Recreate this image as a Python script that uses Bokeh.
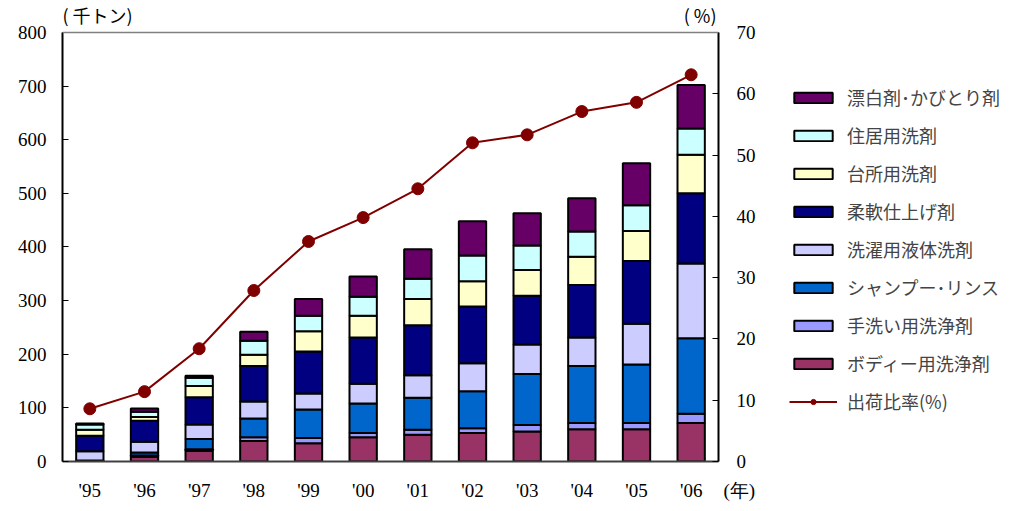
from bokeh.plotting import figure
from bokeh.models import (Range1d, LinearAxis, Legend, LegendItem, Label, FixedTicker,
                          ColumnDataSource, Span)
from bokeh.layouts import row
from bokeh.embed import file_html
from bokeh.resources import INLINE

years = ["'95", "'96", "'97", "'98", "'99", "'00", "'01", "'02", "'03", "'04", "'05", "'06"]
year_unit = "(年)"

body_wash   = [0, 9, 20, 38, 34, 45, 50, 53, 56, 60, 60, 72]
hand_wash   = [2, 2, 3, 7, 10, 8, 9, 9, 12, 12, 12, 17]
shampoo     = [0, 6, 19, 35, 53, 55, 60, 69, 95, 106, 109, 141]
liquid      = [17, 20, 27, 32, 30, 37, 42, 52, 55, 53, 76, 139]
softener    = [29, 39, 51, 66, 78, 86, 93, 106, 91, 98, 117, 131]
kitchen     = [11, 7, 21, 21, 38, 41, 49, 47, 48, 53, 56, 72]
residential = [10, 10, 15, 26, 29, 35, 38, 48, 46, 47, 48, 49]
bleach      = [2, 6, 4, 17, 31, 38, 55, 64, 60, 62, 78, 81]
ratio       = [8.6, 11.4, 18.4, 27.9, 35.9, 39.8, 44.5, 52.0, 53.3, 57.1, 58.6, 63.1]

left_ticks = [0, 100, 200, 300, 400, 500, 600, 700, 800]
right_ticks = [0, 10, 20, 30, 40, 50, 60, 70]

series_names = ["ボディー用洗浄剤", "手洗い用洗浄剤", "シャンプー･リンス", "洗濯用液体洗剤",
                "柔軟仕上げ剤", "台所用洗剤", "住居用洗剤", "漂白剤･かびとり剤"]
ratio_name = "出荷比率(%)"
series_keys = ["body", "hand", "shampoo", "liquid", "softener", "kitchen", "residential", "bleach"]
colors = ["#993366", "#9999FF", "#0066CC", "#CCCCFF", "#000080", "#FFFFCC", "#CCFFFF", "#660066"]
line_color = "#800000"

n = len(years)
xpos = [i + 1 for i in range(n)]          # category slots on a numeric axis
data = dict(x=xpos, body=body_wash, hand=hand_wash, shampoo=shampoo, liquid=liquid,
            softener=softener, kitchen=kitchen, residential=residential, bleach=bleach,
            ratio=ratio)
source = ColumnDataSource(data)

LEFT_MAX = 800
RIGHT_MAX = 70
EXT = 852.2    # frame reaches a bit above 800 so the unit captions sit inside it
H = 509

p = figure(width=760, height=H, x_range=Range1d(0.5, n + 0.5),
           y_range=Range1d(0, EXT), output_backend="svg", toolbar_location=None,
           min_border_left=62, min_border_right=42, min_border_top=4, min_border_bottom=48)
p.extra_y_ranges = {"pct": Range1d(0, EXT * RIGHT_MAX / LEFT_MAX)}

renderers = p.vbar_stack(series_keys, x="x", width=0.5, source=source,
                         fill_color=colors, line_color="black", line_width=2)
p.line(x="x", y="ratio", source=source, y_range_name="pct",
       line_color=line_color, line_width=2)
p.scatter(x="x", y="ratio", source=source, y_range_name="pct", size=12,
          fill_color=line_color, line_color=line_color)

serif = "Liberation Serif"
jp = "Noto Sans CJK JP"

p.xgrid.visible = False
p.ygrid.visible = False
p.outline_line_color = None
p.add_layout(Span(location=LEFT_MAX, dimension="width", line_color="#808080", line_width=1.5))

ax = p.yaxis[0]
ax.ticker = FixedTicker(ticks=left_ticks)
ax.bounds = (0, LEFT_MAX)
ax.major_label_text_font = serif
ax.major_label_text_font_size = "19px"
ax.major_label_text_color = "black"
ax.major_tick_in = 6
ax.major_tick_out = 0
ax.minor_tick_line_color = None
ax.axis_line_color = "black"
ax.axis_line_width = 2
ax.major_label_standoff = 16

rax = LinearAxis(y_range_name="pct", ticker=FixedTicker(ticks=right_ticks), bounds=(0, RIGHT_MAX))
rax.major_label_text_font = serif
rax.major_label_text_font_size = "19px"
rax.major_label_text_color = "black"
rax.major_tick_in = 6
rax.major_tick_out = 0
rax.minor_tick_line_color = None
rax.axis_line_color = "black"
rax.axis_line_width = 2
rax.major_label_standoff = 18
p.add_layout(rax, "right")

# x axis: one tick per year, plus the unit caption at the right edge
unit_tick = n + 0.49
overrides = {float(x): lab for x, lab in zip(xpos, years)}
overrides[unit_tick] = "\u00a0" * 9 + year_unit
bx = p.xaxis[0]
bx.ticker = FixedTicker(ticks=[float(x) for x in xpos] + [unit_tick])
bx.major_label_overrides = overrides
bx.major_label_text_font = serif
bx.major_label_text_font_size = "19px"
bx.major_label_text_color = "black"
bx.major_tick_line_color = None
bx.minor_tick_line_color = None
bx.axis_line_color = "#404040"
bx.axis_line_width = 2
bx.major_label_standoff = 12

p.add_layout(Label(x=0.5, y=808, x_offset=0, text="( 千トン)", text_baseline="bottom",
                   text_font=jp, text_font_size="18px", text_color="black"))
p.add_layout(Label(x=n + 0.5, y=808, x_offset=-2, text="( %)", text_align="right",
                   text_baseline="bottom",
                   text_font=jp, text_font_size="18px", text_color="black"))

# legend panel to the right of the chart (swatch renderers hold no drawable point)
q = figure(width=248, height=H, x_range=Range1d(0, 1), y_range=Range1d(0, 1),
           output_backend="svg", toolbar_location=None,
           x_axis_location=None, y_axis_location=None, min_border=0)
q.xgrid.visible = False
q.ygrid.visible = False
q.outline_line_color = None
nan = float("nan")
swatch = ColumnDataSource(dict(x=[nan], top=[nan], y=[nan]))
leg_rs = [q.vbar(x="x", top="top", width=0.5, source=swatch, fill_color=c,
                 line_color="black", line_width=2) for c in colors]
leg_line = q.line(x="x", y="y", source=swatch, line_color=line_color, line_width=2)
leg_dot = q.scatter(x="x", y="y", source=swatch, size=12, fill_color=line_color,
                    line_color=line_color)

items = [LegendItem(label=series_names[i], renderers=[leg_rs[i]]) for i in range(7, -1, -1)]
items.append(LegendItem(label=ratio_name, renderers=[leg_line, leg_dot]))
legend = Legend(items=items, location=(29, 47), padding=0, margin=0,
                border_line_color=None, background_fill_alpha=0,
                label_text_font=jp, label_text_font_size="18px",
                glyph_width=48, glyph_height=13, label_height=20,
                spacing=12, label_standoff=10)
q.add_layout(legend, "center")

layout = row(p, q, spacing=0)
open("out.html", "w").write(file_html(layout, INLINE))
